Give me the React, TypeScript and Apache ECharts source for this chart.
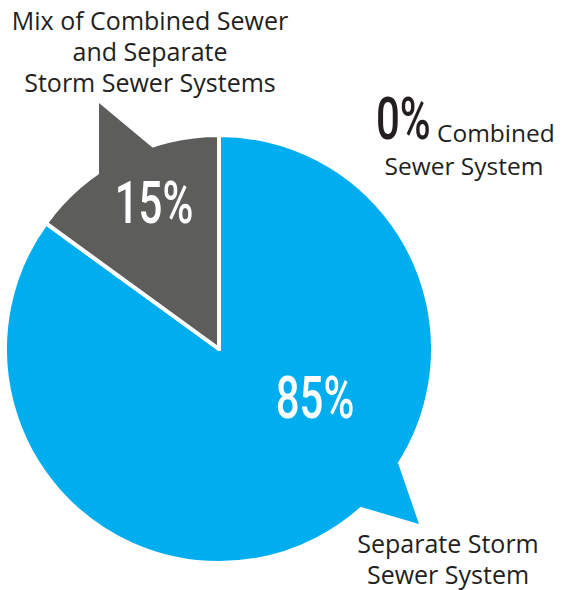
import React, { useEffect, useRef } from "react";
import * as echarts from "echarts";

const categories = [
  "Separate Storm Sewer System",
  "Mix of Combined Sewer and Separate Storm Sewer Systems",
  "Combined Sewer System",
];
const values = [85, 15, 0];
const sliceColors = ["#00AEEF", "#5D5E5C", "#5D5E5C"];
const labelLines = [
  ["Separate Storm", "Sewer System"],
  ["Mix of Combined Sewer", "and Separate", "Storm Sewer Systems"],
  ["Combined", "Sewer System"],
];

const TEXT = "#231F20";
const SANS = "'Open Sans', 'Noto Sans', sans-serif";
const NUMF = "Roboto, 'DejaVu Sans', sans-serif";

export default function App() {
  const ref = useRef<HTMLDivElement>(null);
  useEffect(() => {
    if (!ref.current) return;
    const chart = echarts.init(ref.current, null, { renderer: "svg" });
    const pct = (i: number) => `${values[i]}%`;
    const bigNum = (i: number, x: number, y: number, color: string, align: string) => ({
      type: "text",
      x,
      y,
      scaleX: 0.7,
      z: 20,
      style: {
        text: pct(i),
        fill: color,
        font: `500 60px ${NUMF}`,
        textAlign: align,
        textVerticalAlign: "middle",
      },
    });
    const block = (lines: string[], x: number, y: number, size: number, align = "center") => ({
      type: "text",
      x,
      y,
      z: 20,
      style: {
        text: lines.join("\n"),
        fill: TEXT,
        font: `400 ${size}px ${SANS}`,
        lineHeight: 31,
        textAlign: align,
        textVerticalAlign: "middle",
      },
    });
    chart.setOption({
      animation: false,
      series: [
        {
          type: "pie",
          center: [219, 349],
          radius: 214,
          startAngle: 90,
          clockwise: true,
          silent: true,
          label: { show: false },
          labelLine: { show: false },
          itemStyle: { borderColor: "#ffffff", borderWidth: 4 },
          data: categories.map((name, i) => ({
            name,
            value: values[i],
            itemStyle: { color: sliceColors[i] },
          })),
        },
      ],
      graphic: [
        {
          type: "polygon",
          z: 10,
          shape: { points: [[99, 103], [153, 148], [162, 178], [99, 188]] },
          style: { fill: sliceColors[1] },
        },
        {
          type: "polygon",
          z: 10,
          shape: { points: [[398, 463], [419, 524], [361, 507], [372, 475]] },
          style: { fill: sliceColors[0] },
        },
        bigNum(1, 154, 203, "#ffffff", "center"),
        bigNum(0, 315, 398, "#ffffff", "center"),
        bigNum(2, 376, 119, TEXT, "left"),
        block(labelLines[1], 150, 51, 25),
        block([labelLines[2][0]], 437, 132, 24.5, "left"),
        block([labelLines[2][1]], 464, 165, 24.5),
        block(labelLines[0], 448, 558.5, 25),
      ],
    });
    return () => chart.dispose();
  }, []);
  return (
    <div
      ref={ref}
      style={{ position: "fixed", left: 0, top: 0, width: 562, height: 590, background: "#fff" }}
    />
  );
}
